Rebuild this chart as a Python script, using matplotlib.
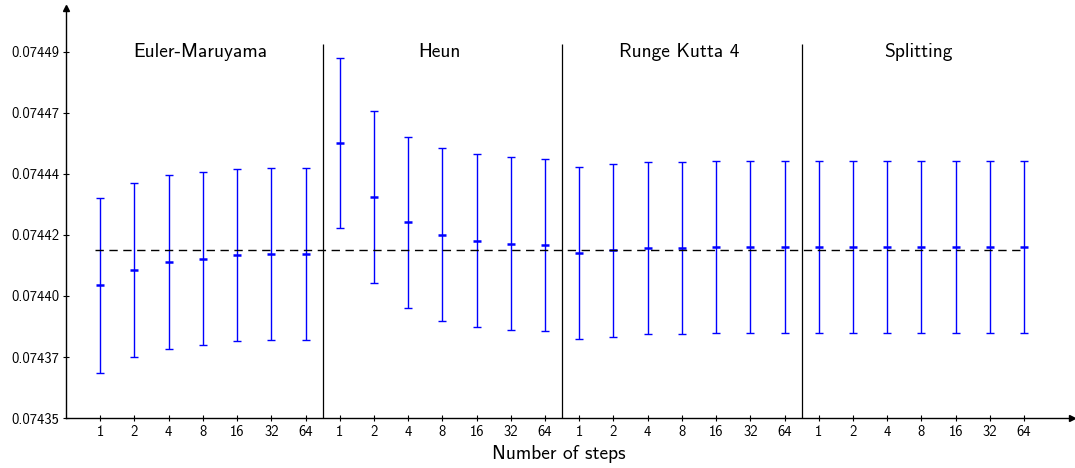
import matplotlib.pyplot as plt

# Estimates of the expectation per scheme and number of steps, with confidence half-widths.
steps = ['1', '2', '4', '8', '16', '32', '64']
methods = ['Euler-Maruyama', 'Heun', 'Runge Kutta 4', 'Splitting']

euler_mean = [0.0744008, 0.0744067, 0.0744095, 0.0744109, 0.0744123, 0.0744127, 0.0744128]
euler_err = [3.344e-5, 3.319e-5, 3.325e-5, 3.295e-5, 3.293e-5, 3.293e-5, 3.295e-5]
heun_mean = [0.0744551, 0.0744344, 0.0744248, 0.0744201, 0.0744178, 0.0744166, 0.0744161]
heun_err = [3.260e-5, 3.281e-5, 3.279e-5, 3.295e-5, 3.295e-5, 3.300e-5, 3.298e-5]
rk4_mean = [0.0744130, 0.0744141, 0.0744149, 0.0744151, 0.0744154, 0.0744154, 0.0744155]
rk4_err = [3.295e-5, 3.295e-5, 3.287e-5, 3.287e-5, 3.293e-5, 3.287e-5, 3.287e-5]
split_mean = [0.0744155] * 7
split_err = [3.287e-5] * 7

reference = 0.0744141
ytick_values = [0.07435, 0.0743733, 0.0743967, 0.07442, 0.0744433, 0.0744667, 0.07449]
ytick_labels = ['0.07435', '0.07437', '0.07440', '0.07442', '0.07444', '0.07447', '0.07449']

plt.rcParams['font.family'] = ['cmss10', 'DejaVu Sans']
plt.rcParams['axes.formatter.use_mathtext'] = True

fig = plt.figure(figsize=(10.75, 4.68), dpi=100)
ax = fig.add_axes([0.0614, 0.1068, 0.9358, 0.876])

means = euler_mean + heun_mean + rk4_mean + split_mean
errs = euler_err + heun_err + rk4_err + split_err
xs = list(range(len(means)))

ax.errorbar(xs, means, yerr=errs, fmt='none', ecolor='blue', elinewidth=1.0,
            capsize=2.8, capthick=1.0)
ax.plot(xs, means, linestyle='none', marker='_', markersize=6, markeredgewidth=1.8,
        color='blue')

# True value
ax.hlines(reference, -0.15, xs[-1], colors='black', linestyles=(0, (6, 4)), linewidth=1.0)

n = len(steps)
top = 0.0744929
for k, name in enumerate(methods):
    if k > 0:
        ax.vlines(k * n - 0.5, 0.07435, top, colors='black', linewidth=0.9)
    ax.text(k * n + (n - 1) / 2 - 0.08, 0.07449, name, ha='center', va='center', fontsize=14)

ax.set_xlim(-1.0, 28.4)
ax.set_ylim(0.07435, 0.0745067)
ax.set_xticks(xs)
ax.set_xticklabels(steps * len(methods), fontsize=10.5)
ax.set_yticks(ytick_values)
ax.set_yticklabels(ytick_labels, fontsize=10.5)
ax.tick_params(direction='inout', length=4, width=0.8, pad=3)

for side in ['top', 'right']:
    ax.spines[side].set_visible(False)
for side in ['left', 'bottom']:
    ax.spines[side].set_linewidth(1.0)

# Arrow heads on the axes
ax.plot(1, 0, '>k', markersize=5, transform=ax.transAxes, clip_on=False)
ax.plot(0, 1, '^k', markersize=5, transform=ax.transAxes, clip_on=False)

ax.text(13.4, -0.088, 'Number of steps', transform=ax.get_xaxis_transform(),
        ha='center', va='center', fontsize=14)

fig.savefig('out.png', dpi=100)
